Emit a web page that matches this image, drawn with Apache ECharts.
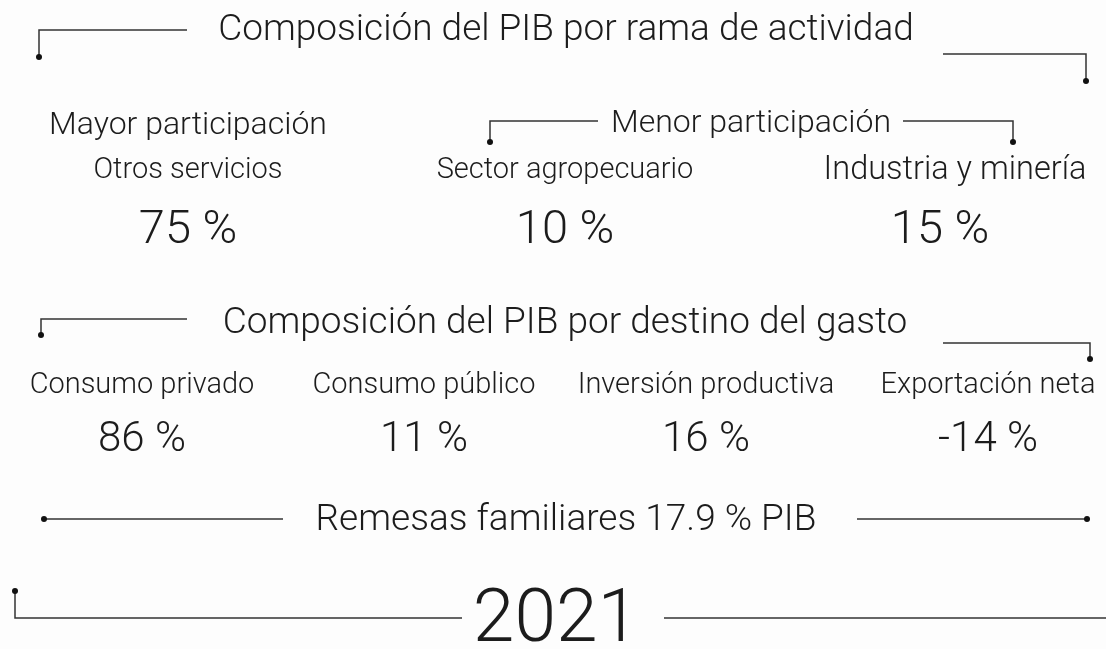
<!DOCTYPE html>
<html>
<head>
<meta charset="utf-8">
<script src="https://cdn.jsdelivr.net/npm/echarts@6/dist/echarts.min.js"></script>
<style>
  html, body { margin: 0; padding: 0; background: #fdfdfd; }
  #chart-container { width: 1106px; height: 649px; }
</style>
</head>
<body>
<div id="chart-container"></div>
<script>
// Datos
var titleActividad = "Composición del PIB por rama de actividad";
var titleGasto = "Composición del PIB por destino del gasto";
var sectorNames = ["Otros servicios", "Sector agropecuario", "Industria y minería"];
var sectorShares = [75, 10, 15];
var gastoNames = ["Consumo privado", "Consumo público", "Inversión productiva", "Exportación neta"];
var gastoShares = [86, 11, 16, -14];
var remesasShare = 17.9;
var year = "2021";

var chartDom = document.getElementById("chart-container");
var myChart = echarts.init(chartDom);

var FONT = "Roboto";
var TEXT_COLOR = "#1c1c1c";
var LINE_COLOR = "#333";

function label(x, y, str, size) {
  return {
    type: "text",
    x: x,
    y: y,
    style: {
      text: str,
      fontFamily: FONT,
      fontWeight: 300,
      fontSize: size,
      fill: TEXT_COLOR,
      align: "center",
      verticalAlign: "middle"
    }
  };
}

function line(points) {
  return {
    type: "polyline",
    shape: { points: points },
    style: { stroke: LINE_COLOR, lineWidth: 1.5, fill: null }
  };
}

function dot(x, y) {
  return {
    type: "circle",
    shape: { cx: x, cy: y, r: 3 },
    style: { fill: "#111" }
  };
}

var elements = [];

// Bloque 1: rama de actividad
elements.push(label(566, 31, titleActividad, 37));
elements.push(line([[39, 57], [39, 30], [187, 30]]), dot(39, 57));
elements.push(line([[943, 54], [1086, 54], [1086, 81]]), dot(1086, 81));

elements.push(label(188, 126, "Mayor participación", 32));
elements.push(label(751, 124, "Menor participación", 32));
elements.push(line([[490, 142], [490, 121], [598, 121]]), dot(490, 142));
elements.push(line([[903, 121], [1013, 121], [1013, 142]]), dot(1013, 142));

var sectorX = [188, 565, 955];
var sectorValX = [188, 565, 940];
var sectorSize = [29, 29, 32.5];
sectorNames.forEach(function (name, i) {
  elements.push(label(sectorX[i], 171, name, sectorSize[i]));
  elements.push(label(sectorValX[i], 231, sectorShares[i] + " %", 47));
});

// Bloque 2: destino del gasto
elements.push(label(565, 324, titleGasto, 37));
elements.push(line([[41, 335], [41, 319], [187, 319]]), dot(41, 335));
elements.push(line([[943, 343], [1090, 343], [1090, 359]]), dot(1090, 359));

var gastoX = [142, 424, 706, 988];
gastoNames.forEach(function (name, i) {
  elements.push(label(gastoX[i], 386, name, 29));
  elements.push(label(gastoX[i], 440, gastoShares[i] + " %", 42));
});

// Remesas
elements.push(label(566, 521, "Remesas familiares " + remesasShare + " % PIB", 37));
elements.push(line([[44, 519], [283, 519]]), dot(44, 519));
elements.push(line([[857, 519], [1087, 519]]), dot(1087, 519));

// Año
elements.push(label(556, 622, year, 75));
elements.push(line([[15, 591], [15, 618], [462, 618]]), dot(15, 591));
elements.push(line([[664, 618], [1106, 618]]));

var option = {
  backgroundColor: "#fdfdfd",
  graphic: { elements: elements }
};

option && myChart.setOption(option);

window.addEventListener("resize", function () {
  myChart.resize();
});
</script>
</body>
</html>
